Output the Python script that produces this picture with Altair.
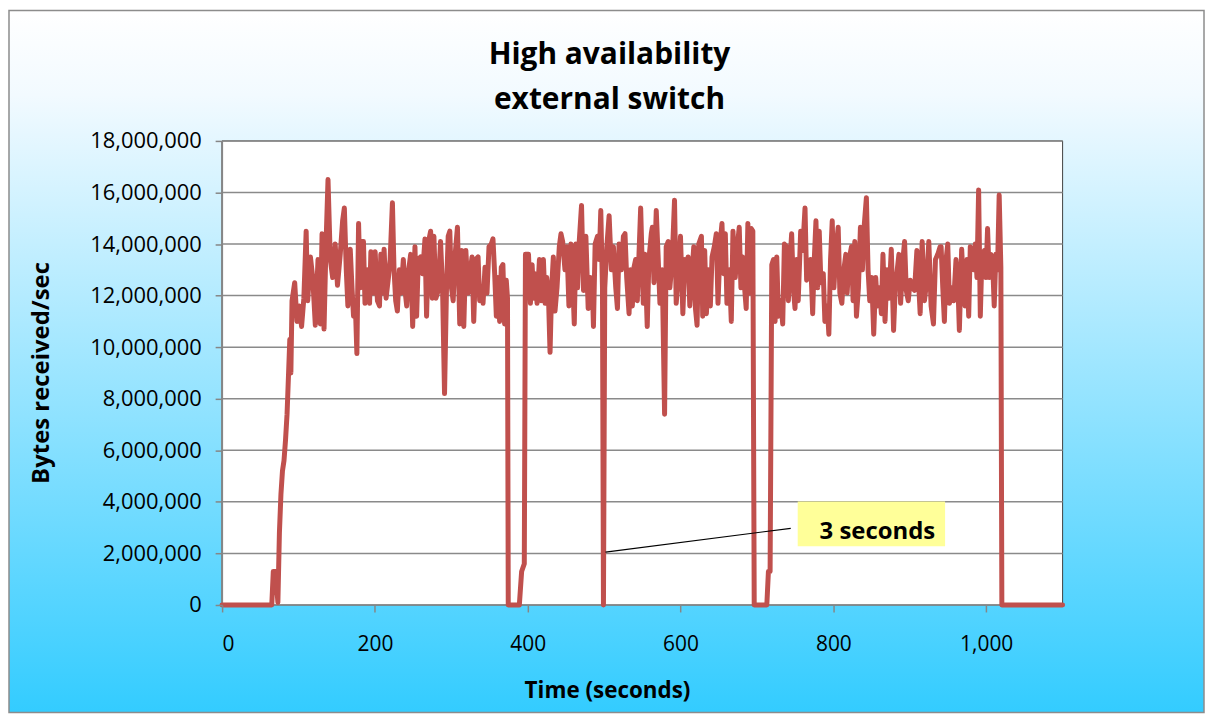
import altair as alt
import pandas as pd

# ---------------- text ----------------
TITLE_LINES = ["High availability", "external switch"]
X_TITLE = "Time (seconds)"
Y_TITLE = "Bytes received/sec"
NOTE = "3 seconds"

X_TICKS = [0, 200, 400, 600, 800, 1000]
Y_TICKS = [0, 2000000, 4000000, 6000000, 8000000, 10000000,
           12000000, 14000000, 16000000, 18000000]

# ---------------- data: (time s, millions of bytes/sec) ----------------
SEG_START = [(0, 0), (65, 0), (67, 1.3), (70, 1.3), (73, 0.1), (75, 2.8), (77, 4.3),
             (79, 5.2), (81, 5.6), (83, 6.4), (85, 7.4), (87, 9.0), (88.6, 10.3),
             (90, 9.0), (91.5, 11.8), (95, 12.5), (98, 11.0), (101, 11.6), (104, 10.8),
             (107, 11.9), (110, 14.5), (112, 11.8), (115.6, 13.5), (118.6, 12.7),
             (122, 10.85), (125.5, 13.4), (128.6, 10.9), (130.8, 14.4), (133.4, 10.7),
             (136, 14.0), (138.6, 16.5), (141.6, 13.4), (144.7, 12.7), (148, 14.0),
             (151, 12.4), (154.6, 13.6), (157.7, 14.9), (160, 15.4), (162.5, 13.0),
             (164.6, 11.6), (167.7, 13.8), (170, 12.3), (172, 11.2), (174.2, 11.8),
             (176.4, 9.75), (178.6, 14.8), (180.7, 12.3), (182.9, 14.1)]

SEG_200 = [(185, 14.1), (187, 11.7), (190, 13.0), (193, 11.7), (194.7, 13.7), (197.3, 12.1),
           (200.3, 13.7), (203.3, 11.8), (206, 11.6), (207.7, 13.6), (209.9, 12.1),
           (212, 13.8), (214.6, 11.9), (217.7, 12.7), (219.9, 13.4), (222.9, 15.6),
           (225, 13.0), (227.2, 11.8), (229.4, 11.4), (232, 13.0), (234.2, 12.1),
           (237.2, 13.4), (239.4, 12.2), (241.6, 11.6), (244.2, 13.0), (246.8, 13.6),
           (249.4, 10.8), (252.4, 13.9), (254.6, 11.2), (256.8, 13.4), (259.8, 13.5),
           (262.4, 12.85), (265.5, 14.2), (267.6, 11.2), (270.2, 14.1), (272.9, 14.5),
           (275, 11.9), (277.2, 14.3), (279.8, 11.9), (282.8, 12.2), (285.9, 14.1),
           (288.5, 12.3), (291.1, 8.2), (293.7, 12.3), (295.9, 14.3), (298, 14.5),
           (300.2, 12.3), (302.4, 11.8), (305, 13.6), (308, 14.65), (311, 10.9),
           (313.7, 13.75), (316.3, 10.8), (319, 13.75), (322, 12.1), (325, 13.0),
           (327.1, 13.5), (329.3, 11.0), (332, 13.4), (335, 13.5), (337.1, 11.8),
           (339.3, 12.3), (341.5, 11.7), (344.1, 13.1), (346.7, 12.1), (349.3, 13.9),
           (352.3, 14.0), (354.5, 14.2), (356.7, 12.85), (358.9, 11.2), (361, 12.7),
           (363.2, 11.0), (365.4, 13.1), (367.5, 13.2), (369.7, 10.9), (371.9, 12.6),
           (373.5, 11.9)]

SEG_400 = [(374.5, 0), (389, 0), (392, 1.3), (395.5, 1.6), (397, 13.6), (401, 13.6),
           (403.5, 11.7), (405.7, 13.2), (407.9, 11.9), (409.6, 12.85), (412.2, 11.7),
           (415.3, 13.4), (417.4, 11.8), (420.5, 13.4), (422.7, 11.7), (424.8, 12.7),
           (427, 12.1), (429.2, 9.8), (431.3, 12.3), (433.5, 13.5), (435.7, 11.4),
           (438.3, 12.3), (441.3, 13.9), (443.5, 14.4), (445.7, 14.1), (448.7, 13.0),
           (451.3, 13.9), (453.9, 11.6), (456.5, 14.0), (458.7, 12.7), (460.9, 10.9),
           (463, 14.0), (465.2, 12.3), (467.4, 14.1), (470.4, 15.5), (473, 12.2),
           (476.1, 14.3), (479.1, 11.5), (481.7, 12.7), (484.8, 12.1), (486, 10.8),
           (488.2, 14.0), (491.3, 14.3), (493.5, 13.4), (495.6, 15.3), (497.8, 12.3),
           (499.1, 0), (500.8, 12.3), (503.5, 13.9), (506.5, 15.1), (509.5, 13.0),
           (512.1, 13.9), (515.2, 12.3), (517.4, 11.5), (519.5, 14.0), (522.6, 13.0),
           (525.2, 14.3), (527.3, 14.4), (529.5, 12.7), (532.6, 11.3), (534.7, 13.0),
           (536.9, 11.6), (539.1, 13.1), (541.2, 13.4), (543.4, 11.8), (545.6, 13.6),
           (547.8, 15.4), (551.2, 11.7), (553.4, 13.6), (556.4, 10.8), (558.6, 13.4),
           (561.7, 14.4)]

SEG_600 = [(563, 14.65), (565.2, 12.5), (568.2, 15.3), (570.8, 13.4), (573, 11.7),
           (576, 13.0), (579.1, 7.4), (581.2, 13.9), (583.9, 14.1), (586, 12.3),
           (589.1, 13.4), (592.1, 15.7), (594.3, 11.7), (596.9, 12.7), (599.9, 14.3),
           (603, 11.3), (605.6, 13.4), (607.7, 13.0), (609.9, 13.5), (612.1, 11.6),
           (614.3, 12.6), (617.3, 13.9), (619.5, 11.5), (621.6, 10.85), (623.8, 14.0),
           (627.3, 14.3), (629, 11.2), (631.6, 13.75), (633.8, 11.3), (636.8, 13.0),
           (639, 11.6), (641.2, 13.5), (644.2, 13.9), (646.8, 14.4), (649, 11.7),
           (652, 14.1), (654.2, 14.8), (656.4, 12.85), (658.6, 14.4), (660.7, 11.7),
           (663.8, 13.0), (666.4, 11.0), (668.6, 14.5), (671.6, 12.7), (673.8, 13.75),
           (676.8, 14.65), (679, 12.3), (681.2, 13.5), (683.8, 12.3), (685.9, 11.5),
           (688.1, 14.8), (690.3, 12.1), (692.5, 14.6), (694.6, 14.5), (696.4, 0),
           (712.9, 0), (715, 1.3), (717.2, 1.3), (719.4, 13.2), (721.6, 13.4),
           (723.7, 11.0), (725.9, 13.5), (728.1, 11.2), (731.1, 11.8), (733.7, 10.9),
           (735.9, 14.0), (738.9, 13.9), (741.1, 11.8), (743.3, 13.4), (745.4, 14.4),
           (747.6, 12.3), (749.8, 11.5)]

SEG_800 = [(752, 13.4), (754, 11.8), (757.2, 14.5), (759.8, 13.75), (762.9, 15.4),
           (765, 12.6), (767.6, 13.0), (770.2, 13.4), (772.9, 11.3), (775, 13.4),
           (777.2, 14.9), (779.4, 12.3), (781.5, 14.5), (783.7, 12.5), (786.8, 12.85),
           (788.9, 11.0), (792, 11.6), (794.1, 10.5), (796.3, 13.4), (798.5, 14.9),
           (800.7, 12.3), (803.3, 13.75), (806.3, 14.65), (808.5, 12.1), (811.1, 11.7),
           (813.7, 13.0), (816.3, 13.6), (818, 12.1), (820.6, 13.4), (823.7, 13.9),
           (825.8, 11.8), (828, 14.1), (830.2, 11.2), (832.8, 12.3), (835.4, 14.65),
           (838, 13.0), (840.2, 14.65), (843.2, 15.8), (845.4, 13.0), (847.6, 11.8),
           (850.2, 12.7), (852.8, 10.5), (855.4, 12.7), (857.6, 11.6), (860.6, 12.3),
           (862.8, 11.3), (864.9, 13.6), (867.6, 11.0), (870.2, 13.0), (872.8, 11.9),
           (875.8, 13.8), (878.8, 10.65), (881, 12.3), (883.6, 13.0), (885.8, 13.6),
           (888, 11.7), (891, 13.4), (893.2, 14.1), (895.4, 12.2), (898, 11.8),
           (900.6, 12.6), (903.2, 12.3), (906.2, 12.2), (909.3, 13.75), (911.4, 12.6),
           (913.6, 11.3), (916.2, 14.1), (919.2, 11.8), (922.3, 12.6), (924.9, 14.1),
           (927.9, 11.6), (931, 10.9), (933.6, 13.4), (936.6, 13.6), (939.7, 13.9)]

SEG_END = [(941, 13.9), (943.2, 12.3), (945.3, 11.0), (947.5, 13.4), (949.7, 14.0),
           (951.9, 11.7), (954.9, 12.3), (957.5, 11.8), (960.5, 13.4), (962.7, 12.7),
           (964.9, 10.65), (967.9, 13.8), (970.5, 12.3), (972.3, 11.6), (974.9, 13.4),
           (977.1, 11.2), (979.2, 13.9), (981.4, 13.75), (983.6, 13.0), (985.7, 14.0),
           (987.9, 12.7), (990.1, 16.1), (992.3, 11.2), (994.4, 13.5), (997.5, 13.75),
           (999.6, 12.7), (1001.8, 14.6), (1004, 12.7), (1006.2, 13.6), (1008.3, 13.4),
           (1010.5, 11.6), (1012.7, 13.6), (1014.8, 13.0), (1017, 15.9), (1019.2, 13.1),
           (1020.5, 0), (1100, 0)]

SEGMENTS = [SEG_START, SEG_200, SEG_400, SEG_600, SEG_800, SEG_END]
rows = [{"t": t, "v": v * 1_000_000} for seg in SEGMENTS for (t, v) in seg]
df = pd.DataFrame(rows)

# ---------------- layout ----------------
W, H = 844, 466
PAD_L, PAD_T, PAD_R, PAD_B = 215, 132, 144, 110
FONT = "Open Sans"
LINE_COLOR = "#C0504D"
AX_GRAY = "#868686"

x_scale = alt.Scale(domain=[0, 1100], nice=False, zero=False)
y_scale = alt.Scale(domain=[0, 18000000], nice=False)

x_axis = alt.Axis(values=X_TICKS, format=",d", grid=False, domain=False, ticks=True,
                  tickSize=7, tickColor=AX_GRAY, tickWidth=1.5, labelFont=FONT,
                  labelFontSize=21, labelColor="#000000", labelPadding=22,
                  title=None, zindex=1)
y_axis = alt.Axis(values=Y_TICKS, format=",d", grid=False, domain=False, ticks=True,
                  tickSize=7, tickColor=AX_GRAY, tickWidth=1.5, labelFont=FONT,
                  labelFontSize=22, labelColor="#000000", labelPadding=14,
                  title=None, zindex=1)

one = pd.DataFrame({"k": [0]})

bg = alt.Chart(one).mark_rect(
    fill=alt.LinearGradient(
        gradient="linear",
        stops=[alt.GradientStop(color="#ffffff", offset=0),
               alt.GradientStop(color="#f2faff", offset=0.12),
               alt.GradientStop(color="#33ccff", offset=1)],
        x1=0, x2=0, y1=0, y2=1),
    stroke="#8c8c8c", strokeWidth=1.5,
).encode(x=alt.value(-PAD_L + 1), x2=alt.value(W + PAD_R - 2),
         y=alt.value(-PAD_T + 1), y2=alt.value(H + PAD_B - 2))

plot_bg = alt.Chart(one).mark_rect(fill="white", stroke="#404040", strokeWidth=1).encode(
    x=alt.value(0), x2=alt.value(W), y=alt.value(0), y2=alt.value(H))

grid = alt.Chart(pd.DataFrame({"g": Y_TICKS})).mark_rule(color="#8a8a8a", strokeWidth=1.5).encode(
    y=alt.Y("g:Q", scale=y_scale, axis=y_axis), x=alt.value(0), x2=alt.value(W))

y_domain = alt.Chart(one).mark_rule(color=AX_GRAY, strokeWidth=2).encode(
    x=alt.value(0), y=alt.value(0), y2=alt.value(H))

line = alt.Chart(df).mark_line(color=LINE_COLOR, strokeWidth=5, strokeJoin="round",
                               strokeCap="round").encode(
    x=alt.X("t:Q", scale=x_scale, axis=x_axis),
    y=alt.Y("v:Q", scale=y_scale, axis=y_axis),
    order="t:Q")

note_box = alt.Chart(one).mark_rect(fill="#FFFF99").encode(
    x=alt.value(578), x2=alt.value(726), y=alt.value(362), y2=alt.value(407))
note_line = alt.Chart(one).mark_rule(color="#000000", strokeWidth=1.2).encode(
    x=alt.value(385), y=alt.value(413), x2=alt.value(571), y2=alt.value(389))
note_text = alt.Chart(pd.DataFrame({"s": [NOTE]})).mark_text(
    font=FONT, fontSize=24, fontWeight="bold", color="#000000", align="left",
    baseline="middle").encode(text="s:N", x=alt.value(600), y=alt.value(393))

title1 = alt.Chart(pd.DataFrame({"s": [TITLE_LINES[0]]})).mark_text(
    font=FONT, fontSize=30, fontWeight="bold", color="#000000", align="center",
    baseline="middle").encode(text="s:N", x=alt.value(389), y=alt.value(-86))
title2 = alt.Chart(pd.DataFrame({"s": [TITLE_LINES[1]]})).mark_text(
    font=FONT, fontSize=30, fontWeight="bold", color="#000000", align="center",
    baseline="middle").encode(text="s:N", x=alt.value(389), y=alt.value(-41))

x_title = alt.Chart(pd.DataFrame({"s": [X_TITLE]})).mark_text(
    font=FONT, fontSize=22.5, fontWeight="bold", color="#000000", align="center",
    baseline="middle").encode(text="s:N", x=alt.value(387), y=alt.value(552))
y_title = alt.Chart(pd.DataFrame({"s": [Y_TITLE]})).mark_text(
    font=FONT, fontSize=24, fontWeight="bold", color="#000000", align="center",
    baseline="middle", angle=270).encode(text="s:N", x=alt.value(-181), y=alt.value(H / 2))

chart = alt.layer(
    bg, plot_bg, grid, y_domain, line, note_box, note_line, note_text,
    title1, title2, x_title, y_title,
).properties(
    width=W, height=H,
    padding={"left": PAD_L, "top": PAD_T, "right": PAD_R, "bottom": PAD_B},
    autosize=alt.AutoSizeParams(type="none"),
).configure_view(stroke=None)

chart.save("out.html", embed_options={"renderer": "svg", "actions": False})
